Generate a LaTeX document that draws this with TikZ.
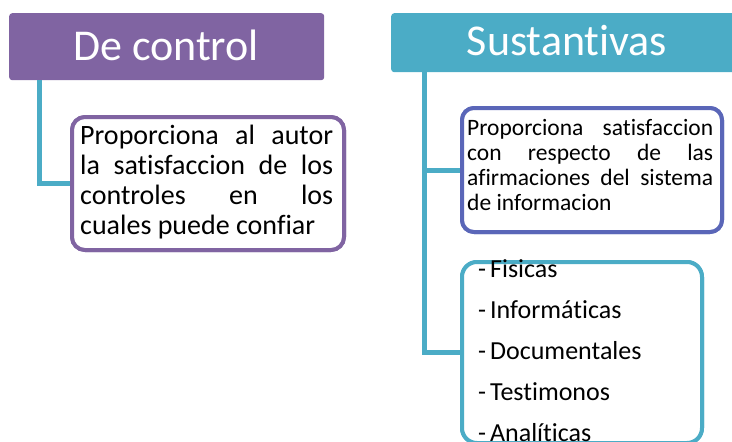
\documentclass[tikz,border=0pt]{standalone}
\usepackage{fontspec}
\setmainfont[RawFeature={-liga;-clig;-calt;-dlig}]{Carlito}
\hyphenpenalty=10000
\exhyphenpenalty=10000
\definecolor{cpurple}{HTML}{8064A2}
\definecolor{cteal}{HTML}{4BACC6}
\definecolor{cblue}{HTML}{5A66B8}
\tikzset{
  hdr/.style={rounded corners=3pt, inner sep=0pt, anchor=north west},
  hdrtext/.style={text=white, font=\fontsize{44}{48}\selectfont, anchor=base, inner sep=0pt},
  box/.style={draw, line width=4pt, rounded corners=13pt, fill=white, inner sep=0pt, anchor=north west},
  conn/.style={draw=cteal, line width=5pt},
  txt/.style={inner sep=0pt, anchor=base west}
}
\newcommand{\dsh}{-\hspace{4pt}}
\begin{document}
\begin{tikzpicture}[x=1pt,y=-1pt]
\useasboundingbox (0,0) rectangle (732,442);
\clip (0,0) rectangle (732,442);
% headers
\node[hdr, fill=cpurple, minimum width=315pt, minimum height=67pt] (hdrL) at (9,13) {};
\node[hdrtext] (hdrLt) at (166,60) {De control};
\node[hdr, fill=cteal, minimum width=354pt, minimum height=59pt] (hdrR) at (391,13) {};
\node[hdrtext] (hdrRt) at (567,55) {Sustantivas};
% boxes
\node[box, draw=cpurple, minimum width=272pt, minimum height=133pt] (boxL) at (70,115) {};
\node[box, draw=cblue, minimum width=260pt, minimum height=124pt, rounded corners=12pt] (boxR1) at (460,106) {};
\node[box, draw=cteal, minimum width=240pt, minimum height=181pt, rounded corners=15pt] (boxR2) at (460,260) {};
% connectors
\coordinate (spL) at ([xshift=30pt]hdrL.south west);
\coordinate (spR) at ([xshift=33pt]hdrR.south west);
\draw[conn] (spL) |- (boxL.west);
\draw[conn] (spR) |- (boxR2.west);
\draw[conn] (spR |- boxR1.west) -- (boxR1.west);
% redraw box borders over connector ends
\node[box, draw=cpurple, minimum width=272pt, minimum height=133pt] at (70,115) {};
\node[box, draw=cblue, minimum width=260pt, minimum height=124pt, rounded corners=12pt] at (460,106) {};
\node[box, draw=cteal, minimum width=240pt, minimum height=181pt, rounded corners=15pt] at (460,260) {};
% texts
\node[txt, text width=253pt, align=justify, font=\fontsize{28}{30.3}\selectfont] (tL) at (80,144)
 {Proporciona al autor\linebreak la satisfaccion de los\linebreak controles en los\linebreak cuales puede confiar};
\node[txt, text width=246pt, align=justify, font=\fontsize{23.5}{25}\selectfont] (tR1) at (467,135)
 {Proporciona satisfaccion\linebreak con respecto de las\linebreak afirmaciones del sistema\linebreak de informacion};
\node[txt, text width=220pt, align=left, font=\fontsize{26}{41}\selectfont] (tR2) at (478,277)
 {\dsh Fisicas\\\dsh Informáticas\\\dsh Documentales\\\dsh Testimonos\\\dsh Analíticas};
\end{tikzpicture}
\end{document}
